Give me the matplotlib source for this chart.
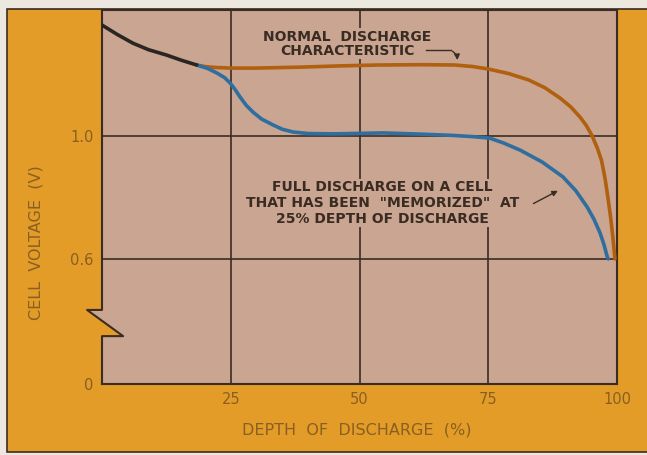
import matplotlib
matplotlib.use("Agg")
import matplotlib.pyplot as plt
from matplotlib.patches import Rectangle, Polygon
from matplotlib.lines import Line2D

# depth of discharge (%) / cell voltage (V)
common_x = [0, 3, 6.0, 9, 12.6, 15.5, 18.4]
common_v = [1.361, 1.330, 1.302, 1.281, 1.263, 1.246, 1.231]

normal_x = [18.4, 20, 22, 25, 30, 38.4, 46, 53.6, 62, 68.5, 72, 75, 79, 82.9, 86, 88.9, 91, 92.8,
            94, 95.1, 96.2, 97.0, 97.7, 98.3, 98.8, 99.2, 99.6]
normal_v = [1.231, 1.226, 1.223, 1.221, 1.221, 1.224, 1.228, 1.231, 1.232, 1.231, 1.226, 1.218, 1.203,
            1.182, 1.157, 1.124, 1.095, 1.062, 1.035, 1.003, 0.96, 0.92, 0.86, 0.792, 0.73, 0.67, 0.6]

memo_x = [18.4, 20.5, 22.3, 23.8, 24.9, 25.9, 26.8, 28, 29.3, 31, 33.2, 35, 37.1, 40, 45, 54.6, 62,
          68, 72, 75.3, 78, 81.2, 85.5, 89.5, 92.0, 94.2, 95.5, 96.7, 97.5, 98.1, 98.3]
memo_v = [1.231, 1.220, 1.205, 1.19, 1.172, 1.15, 1.127, 1.10, 1.078, 1.055, 1.036, 1.022, 1.013,
          1.008, 1.007, 1.010, 1.006, 1.002, 0.998, 0.993, 0.977, 0.954, 0.915, 0.867, 0.822, 0.769,
          0.73, 0.685, 0.645, 0.607, 0.6]

xticks = [25, 50, 75, 100]
yticks = [0.193, 0.6, 1.0]
ylabels = ["0", "0.6", "1.0"]

ORANGE = "#E29C27"
PINK = "#C9A592"
INK = "#3a2c22"
LABEL = "#8a5f22"

fig = plt.figure(figsize=(6.47, 4.55), dpi=100)
fig.patch.set_facecolor("#ECE8E0")
fig.patches.append(Rectangle((7 / 647, 0.006), 1.0, 1 - 9 / 455 - 0.006, transform=fig.transFigure,
                             facecolor=ORANGE, edgecolor=INK, lw=1.2, zorder=-10))

ax = fig.add_axes([102 / 647, 1 - 384 / 455, 515 / 647, 374 / 455])
ax.set_facecolor(PINK)
ax.set_xlim(0, 100)
ax.set_ylim(0.193, 1.41)

for s in ["top", "right", "bottom"]:
    ax.spines[s].set_color(INK)
    ax.spines[s].set_linewidth(1.5)
ax.spines["left"].set_visible(False)

# broken left axis
tr = ax.transAxes
ax.add_patch(Polygon([(0, 0.198), (-0.029, 0.198), (0, 0.169)], closed=True, transform=tr,
                     facecolor=PINK, edgecolor="none", clip_on=False, zorder=1))
ax.add_patch(Polygon([(0, 0.169), (0.041, 0.128), (0, 0.128)], closed=True, transform=tr,
                     facecolor=ORANGE, edgecolor="none", clip_on=False, zorder=1))
ax.add_line(Line2D([0, 0, -0.029, 0.041, 0, 0], [1, 0.198, 0.198, 0.128, 0.128, 0], transform=tr,
                   color=INK, lw=1.5, clip_on=False, zorder=2))

for v in [0.6, 1.0]:
    ax.axhline(v, color=INK, lw=1.2, zorder=1)
for x in [25, 50, 75]:
    ax.axvline(x, color=INK, lw=1.2, zorder=1)

ax.set_xticks(xticks)
ax.set_yticks(yticks)
ax.set_yticklabels(ylabels)
ax.tick_params(length=0, labelsize=10.5, labelcolor=LABEL, pad=6)

ax.plot(normal_x, normal_v, color="#B0600E", lw=2.6, solid_capstyle="round", solid_joinstyle="round", zorder=3)
ax.plot(memo_x, memo_v, color="#2F6E9E", lw=2.6, solid_capstyle="round", solid_joinstyle="round", zorder=4)
ax.plot(common_x, common_v, color="#2b2622", lw=2.6, solid_capstyle="round", solid_joinstyle="round", zorder=5)

note = dict(fontsize=10, fontweight="bold", color=INK, ha="center", va="center", zorder=6)
box = dict(facecolor=PINK, edgecolor="none", pad=1)
ax.text(47.6, 1.300, "NORMAL  DISCHARGE\nCHARACTERISTIC", linespacing=1.0, bbox=box, **note)
ax.plot([63.0, 67.8], [1.28, 1.28], color=INK, lw=1, zorder=6)
ax.annotate("", xy=(69.0, 1.238), xytext=(67.6, 1.28),
            arrowprops=dict(arrowstyle="-|>", color=INK, lw=1, mutation_scale=8,
                            connectionstyle="arc3,rad=-0.35"), zorder=6)

ax.text(54.4, 0.782, "FULL DISCHARGE ON A CELL\nTHAT HAS BEEN  \"MEMORIZED\"  AT\n25% DEPTH OF DISCHARGE",
        linespacing=1.15, bbox=box, **note)
ax.annotate("", xy=(89.0, 0.826), xytext=(83.3, 0.776),
            arrowprops=dict(arrowstyle="-|>", color=INK, lw=1, mutation_scale=8), zorder=6)

fig.text(357 / 647, 1 - 430 / 455, "DEPTH  OF  DISCHARGE  (%)", ha="center", va="center",
         fontsize=11.5, color=LABEL)
fig.text(36 / 647, 1 - 243 / 455, "CELL  VOLTAGE  (V)", ha="center", va="center",
         rotation=90, fontsize=11.5, color=LABEL)

fig.savefig("out.png", dpi=100, facecolor=fig.get_facecolor())
